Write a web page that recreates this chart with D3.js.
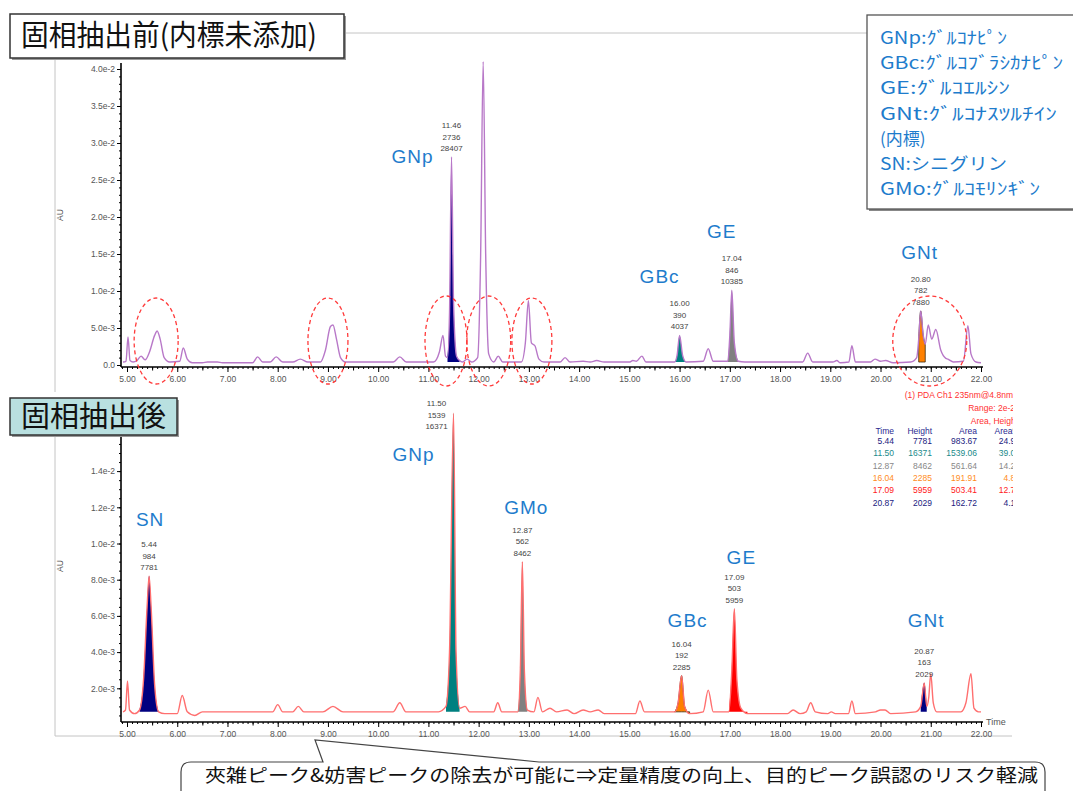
<!DOCTYPE html>
<html>
<head>
<meta charset="utf-8">
<script src="https://cdnjs.cloudflare.com/ajax/libs/d3/7.8.5/d3.min.js"></script>
<style>
body { margin: 0; background: #fff; }
text { font-family: "Liberation Sans", Arial, sans-serif; }
.jp { font-family: "Noto Sans CJK JP", sans-serif; }
</style>
</head>
<body>
<div id="chart"></div>
<script>
// Data
var xTicks = [5, 6, 7, 8, 9, 10, 11, 12, 13, 14, 15, 16, 17, 18, 19, 20, 21, 22];
var topYTicks = [0, 0.005, 0.01, 0.015, 0.02, 0.025, 0.03, 0.035, 0.04];
var topYLabels = ['0.0', '5.0e-3', '1.0e-2', '1.5e-2', '2.0e-2', '2.5e-2', '3.0e-2', '3.5e-2', '4.0e-2'];
var botYTicks = [0.002, 0.004, 0.006, 0.008, 0.01, 0.012, 0.014];
var botYLabels = ['2.0e-3', '4.0e-3', '6.0e-3', '8.0e-3', '1.0e-2', '1.2e-2', '1.4e-2'];

var topBase = 0.0004;
var topTrace = [
  [4.92, 0.0004], [4.98, 0.0005], [5.02, 0.0038], [5.06, 0.0006], [5.12, 0.0004], [5.2, 0.0006],
  [5.28, 0.0012], [5.36, 0.0007], [5.45, 0.0018], [5.55, 0.0040], [5.6, 0.0046], [5.66, 0.0035],
  [5.74, 0.0010], [5.85, 0.0004], [6.05, 0.0005], [6.12, 0.0023], [6.2, 0.0008], [6.3, 0.0003],
  [6.5, 0.0003], [6.6, 0.0004], [6.8, 0.0004], [6.9, 0.0003], [7.5, 0.0003], [7.6, 0.0011],
  [7.7, 0.0004], [7.85, 0.0004], [7.97, 0.0011], [8.1, 0.0004], [8.3, 0.0004], [8.45, 0.0008],
  [8.6, 0.0004], [8.85, 0.0004], [8.95, 0.0020], [9.05, 0.0052], [9.1, 0.0054], [9.17, 0.0035],
  [9.25, 0.0010], [9.35, 0.0004], [10.3, 0.0004], [10.43, 0.0011], [10.56, 0.0004], [11.1, 0.0004],
  [11.22, 0.0018], [11.29, 0.0040], [11.34, 0.0012], [11.38, 0.0010], [11.42, 0.0070], [11.46, 0.0281],
  [11.5, 0.0085], [11.56, 0.0012], [11.62, 0.0006], [11.68, 0.0004], [11.77, 0.0008], [11.86, 0.0004],
  [11.98, 0.0010], [12.04, 0.0150], [12.09, 0.0410], [12.14, 0.0150], [12.2, 0.0015], [12.3, 0.0004],
  [12.39, 0.0012], [12.48, 0.0004], [12.85, 0.0004], [12.93, 0.0030], [12.99, 0.0087], [13.05, 0.0030],
  [13.12, 0.0026], [13.2, 0.0008], [13.3, 0.0004], [13.62, 0.0004], [13.72, 0.0010], [13.82, 0.0004],
  [14.08, 0.0005], [14.22, 0.0004], [14.35, 0.0006], [14.5, 0.0004], [15.0, 0.0004], [15.07, 0.0006],
  [15.14, 0.0005], [15.25, 0.0012], [15.33, 0.0004], [15.9, 0.0004], [15.95, 0.0013], [16.0, 0.0040],
  [16.06, 0.0013], [16.13, 0.0004], [16.47, 0.0005], [16.57, 0.0022], [16.67, 0.0005], [16.96, 0.0005],
  [17.0, 0.0040], [17.04, 0.0101], [17.09, 0.0030], [17.17, 0.0005], [17.3, 0.0004], [18.45, 0.0004],
  [18.55, 0.0016], [18.65, 0.0004], [19.05, 0.0004], [19.13, 0.0006], [19.2, 0.0003], [19.37, 0.0004],
  [19.43, 0.0026], [19.5, 0.0004], [19.8, 0.0004], [19.89, 0.0008], [20.0, 0.0005], [20.1, 0.0006],
  [20.25, 0.0003], [20.6, 0.0004], [20.72, 0.0010], [20.76, 0.0035], [20.8, 0.0073], [20.85, 0.0040],
  [20.89, 0.0028], [20.95, 0.0054], [21.02, 0.0035], [21.1, 0.0048], [21.2, 0.0020], [21.3, 0.0009],
  [21.34, 0.0008], [21.45, 0.0004], [21.65, 0.0005], [21.74, 0.0053], [21.8, 0.0015], [21.9, 0.0004],
  [22.0, 0.0003]
];
var topNames = ['GNp', 'GBc', 'GE', 'GNt'];
var topPeakTimes = [11.46, 16.00, 17.04, 20.80];
var topPeakHeights = [2736, 390, 846, 782];
var topPeakAreas = [28407, 4037, 10385, 7880];
var topFillFrom = [11.38, 15.9, 16.96, 20.76];
var topFillTo = [11.62, 16.13, 17.17, 20.89];
var circledTimes = [5.58, 9.0, 11.35, 12.2, 13.06, 20.98];

var botBase = 0.0007;
var botTrace = [
  [4.92, 0.0007], [4.97, 0.0008], [5.01, 0.0024], [5.05, 0.0008], [5.15, 0.0006], [5.25, 0.0008],
  [5.33, 0.0025], [5.4, 0.0065], [5.44, 0.0082], [5.48, 0.0065], [5.55, 0.0022], [5.63, 0.0007],
  [5.75, 0.0006], [6.0, 0.0006], [6.1, 0.0016], [6.2, 0.0007], [6.35, 0.0005], [6.5, 0.0007],
  [7.0, 0.0007], [7.9, 0.0007], [8.0, 0.0011], [8.1, 0.0007], [8.3, 0.0007], [8.41, 0.0010],
  [8.52, 0.0007], [8.9, 0.0007], [9.1, 0.0010], [9.3, 0.0007], [10.3, 0.0007], [10.43, 0.0012],
  [10.55, 0.0007], [11.2, 0.0007], [11.35, 0.0010], [11.42, 0.0040], [11.5, 0.0172], [11.55, 0.0040],
  [11.62, 0.0009], [11.73, 0.0010], [11.82, 0.0007], [12.3, 0.0007], [12.38, 0.0012], [12.46, 0.0007],
  [12.78, 0.0007], [12.83, 0.0030], [12.87, 0.0090], [12.91, 0.0030], [12.97, 0.0008], [13.1, 0.0007],
  [13.18, 0.0015], [13.27, 0.0007], [13.42, 0.0009], [13.55, 0.0007], [13.76, 0.0008], [13.9, 0.0006],
  [14.08, 0.0008], [14.22, 0.0007], [14.38, 0.0008], [14.5, 0.0006], [15.12, 0.0006], [15.21, 0.0013],
  [15.3, 0.0007], [15.9, 0.0007], [15.97, 0.0012], [16.04, 0.0027], [16.1, 0.0010], [16.2, 0.0006],
  [16.47, 0.0007], [16.57, 0.0019], [16.67, 0.0007], [16.98, 0.0007], [17.04, 0.0030], [17.09, 0.0064],
  [17.14, 0.0025], [17.22, 0.0009], [17.35, 0.0006], [18.15, 0.0006], [18.26, 0.0008], [18.4, 0.0006],
  [18.52, 0.0007], [18.61, 0.0012], [18.7, 0.0007], [18.95, 0.0006], [19.02, 0.0007], [19.1, 0.0006],
  [19.36, 0.0006], [19.43, 0.0013], [19.5, 0.0006], [19.9, 0.0007], [20.0, 0.0008], [20.09, 0.0008],
  [20.2, 0.0006], [20.7, 0.0007], [20.8, 0.0010], [20.87, 0.0023], [20.92, 0.0010], [20.96, 0.0015],
  [21.0, 0.0028], [21.05, 0.0012], [21.12, 0.0007], [21.6, 0.0007], [21.7, 0.0012], [21.8, 0.0028],
  [21.86, 0.0009], [21.95, 0.0007], [22.0, 0.0007]
];
var botNames = ['SN', 'GNp', 'GMo', 'GBc', 'GE', 'GNt'];
var botPeakTimes = [5.44, 11.50, 12.87, 16.04, 17.09, 20.87];
var botPeakHeights = [984, 1539, 562, 192, 503, 163];
var botPeakAreas = [7781, 16371, 8462, 2285, 5959, 2029];
var botFillFrom = [5.25, 11.35, 12.78, 15.9, 16.98, 20.8];
var botFillTo = [5.63, 11.62, 12.97, 16.2, 17.35, 20.92];

var tableTime = ['5.44', '11.50', '12.87', '16.04', '17.09', '20.87'];
var tableHeight = ['7781', '16371', '8462', '2285', '5959', '2029'];
var tableArea = ['983.67', '1539.06', '561.64', '191.91', '503.41', '162.72'];
var tableAreaPct = ['24.95', '39.04', '14.25', '4.87', '12.77', '4.13'];

var legendLines = ['GNp:ｸﾞﾙｺﾅﾋﾟﾝ', 'GBc:ｸﾞﾙｺﾌﾞﾗｼｶﾅﾋﾟﾝ', 'GE:ｸﾞﾙｺｴﾙｼﾝ', 'GNt:ｸﾞﾙｺﾅｽﾂﾙﾁｲﾝ',
  '(内標)', 'SN:シニグリン', 'GMo:ｸﾞﾙｺﾓﾘﾝｷﾞﾝ'];

// Styles / layout
var topColors = {GNp: '#000080', GBc: '#008080', GE: '#808080', GNt: '#ff8000'};
var botColors = {SN: '#000080', GNp: '#008080', GMo: '#808080', GBc: '#ff8000', GE: '#ff0000', GNt: '#000080'};
var tableColors = ['#1a1a80', '#1a8a8a', '#888888', '#ff8c1a', '#ff2020', '#1a1a80'];
// offsets of the blue names and the number stacks from each apex
var topNameOff = {GNp: [-39, -1], GBc: [-20, -59], GE: [-10, -59], GNt: [-1, -59]};
var botNameOff = {SN: [1, -57], GNp: [-40, 41], GMo: [4, -55], GBc: [6, -56], GE: [7, -52], GNt: [2, -63]};
var botNumOff = {GNp: [-17, 22]};
var ellipseR = [[22, 43], [20, 43], [21, 45], [22, 45], [20, 43], [37, 45]];
var legendWidths = [127, 183, 130, 177, null, 127, 160];

var W = 1073, H = 791;
var svg = d3.select('#chart').append('svg')
    .attr('width', W)
    .attr('height', H);

var x = d3.scaleLinear().domain([5, 22]).range([127, 981]);
var yTop = d3.scaleLinear().domain([0, 0.04]).range([365, 69]);
var yBot = d3.scaleLinear().domain([0, 0.014]).range([724.5, 471.1]);

// Frame lines
var frame = svg.append('g').attr('stroke', '#c4c4c4').attr('fill', 'none');
frame.append('line').attr('x1', 345).attr('y1', 33).attr('x2', 868).attr('y2', 33);
frame.append('line').attr('x1', 55).attr('y1', 59).attr('x2', 55).attr('y2', 392);
frame.append('line').attr('x1', 55).attr('y1', 436).attr('x2', 55).attr('y2', 736);
frame.append('line').attr('x1', 55).attr('y1', 736).attr('x2', 1012).attr('y2', 736);

function drawAxes(y, axisY, yTopPx, yTicks, yLabels, minorStep) {
    var ax = svg.append('g');
    // x minor, half and major ticks
    var minor = d3.range(49, 221).map(function(d) { return d / 10; });
    var half = d3.range(5.5, 22, 1);
    var gx = ax.append('g').attr('transform', 'translate(0,' + axisY + ')');
    gx.append('g').call(d3.axisBottom(x).tickValues(minor).tickSize(2).tickFormat(''));
    gx.append('g').call(d3.axisBottom(x).tickValues(half).tickSize(3.5).tickFormat(''));
    gx.append('g').call(d3.axisBottom(x).tickValues(xTicks).tickSize(5).tickPadding(4)
        .tickFormat(d3.format('.2f')));
    gx.append('line').attr('x1', 121).attr('x2', 983).attr('stroke', '#000').attr('stroke-width', 1.6);

    var gy = ax.append('g').attr('transform', 'translate(121,0)');
    var yMin = d3.range(minorStep, y.invert(yTopPx), minorStep);
    gy.append('g').call(d3.axisLeft(y).tickValues(yMin).tickSize(2).tickFormat(''));
    gy.append('g').call(d3.axisLeft(y).tickValues(yTicks).tickSize(4).tickPadding(2)
        .tickFormat(function(d, i) { return yLabels[i]; }));
    gy.append('line').attr('y1', yTopPx).attr('y2', axisY).attr('stroke', '#000').attr('stroke-width', 1.6);

    ax.selectAll('.domain').remove();
    ax.selectAll('.tick line').attr('stroke', '#000');
    ax.selectAll('.tick text').attr('fill', '#555').attr('font-size', '8.5px');
}

function drawTrace(trace, y, base, names, times, from, to, colors, stroke) {
    var g = svg.append('g');
    var area = d3.area()
        .x(function(d) { return x(d[0]); })
        .y0(y(base))
        .y1(function(d) { return y(d[1]); })
        .curve(d3.curveMonotoneX);
    names.forEach(function(n, i) {
        var pts = trace.filter(function(d) { return d[0] >= from[i] && d[0] <= to[i]; });
        g.append('path').datum(pts)
            .attr('d', area)
            .attr('fill', colors[n])
            .attr('stroke', colors[n] === '#ff8000' ? '#3a2a10' : 'none')
            .attr('stroke-width', 0.8);
    });
    var line = d3.line()
        .x(function(d) { return x(d[0]); })
        .y(function(d) { return y(d[1]); })
        .curve(d3.curveMonotoneX);
    g.append('path').datum(trace)
        .attr('d', line)
        .attr('fill', 'none')
        .attr('stroke', stroke)
        .attr('stroke-width', 1.4);
}

function apexOf(trace, t) {
    var p = trace.filter(function(d) { return Math.abs(d[0] - t) < 0.005; })[0];
    return p[1];
}

function drawLabels(trace, y, names, times, heights, areas, nameOff, numOff) {
    var g = svg.append('g');
    names.forEach(function(n, i) {
        var ax = x(times[i]), ay = y(apexOf(trace, times[i]));
        var no = nameOff[n];
        g.append('text')
            .attr('x', ax + no[0]).attr('y', ay + no[1] + 7)
            .attr('text-anchor', 'middle')
            .attr('font-size', '19px')
            .attr('letter-spacing', '1px')
            .attr('fill', '#1e7ccc')
            .text(n);
        var off = (numOff && numOff[n]) || [0, 0];
        var lines = [times[i].toFixed(2), heights[i], areas[i]];
        lines.forEach(function(s, j) {
            g.append('text')
                .attr('x', ax + off[0])
                .attr('y', ay - 6 - (2 - j) * 11.5 + off[1])
                .attr('text-anchor', 'middle')
                .attr('font-size', '8px')
                .attr('fill', '#444')
                .text(s);
        });
    });
}

drawAxes(yTop, 367, 63, topYTicks, topYLabels, 0.001);
drawAxes(yBot, 722, 437, botYTicks, botYLabels, 0.0005);
drawTrace(topTrace, yTop, topBase, topNames, topPeakTimes, topFillFrom, topFillTo, topColors, '#b878c8');
drawTrace(botTrace, yBot, botBase, botNames, botPeakTimes, botFillFrom, botFillTo, botColors, '#ff6f6f');
drawLabels(topTrace, yTop, topNames, topPeakTimes, topPeakHeights, topPeakAreas, topNameOff, null);
drawLabels(botTrace, yBot, botNames, botPeakTimes, botPeakHeights, botPeakAreas, botNameOff, botNumOff);

// AU labels and Time
[215, 566].forEach(function(cy) {
    svg.append('text')
        .attr('transform', 'translate(63,' + cy + ')rotate(-90)')
        .attr('text-anchor', 'middle')
        .attr('font-size', '8.5px')
        .attr('fill', '#555')
        .text('AU');
});
svg.append('text').attr('x', 986).attr('y', 725)
    .attr('font-size', '9px').attr('fill', '#555').text('Time');

// Dashed ellipses round interfering peaks
svg.append('g').selectAll('ellipse')
    .data(circledTimes)
    .enter()
    .append('ellipse')
    .attr('cx', function(d) { return x(d); })
    .attr('cy', 341)
    .attr('rx', function(d, i) { return ellipseR[i][0]; })
    .attr('ry', function(d, i) { return ellipseR[i][1]; })
    .attr('fill', 'none')
    .attr('stroke', '#ff3b3b')
    .attr('stroke-width', 1.3)
    .attr('stroke-dasharray', '4,3');

// Result table (clipped at the panel edge)
svg.append('clipPath').attr('id', 'tclip')
    .append('rect').attr('x', 800).attr('y', 380).attr('width', 213).attr('height', 140);
var tbl = svg.append('g').attr('clip-path', 'url(#tclip)').attr('font-size', '8.5px');
var redX = [1013, 1015, 1018];
['(1) PDA Ch1 235nm@4.8nm', 'Range: 2e-2', 'Area, Height'].forEach(function(s, i) {
    tbl.append('text')
        .attr('x', redX[i])
        .attr('y', 398 + i * 13)
        .attr('text-anchor', 'end')
        .attr('fill', '#ff3030')
        .text(s);
});
var colX = [894, 932, 977, 1020];
['Time', 'Height', 'Area', 'Area%'].forEach(function(s, i) {
    tbl.append('text').attr('x', colX[i]).attr('y', 434)
        .attr('text-anchor', 'end').attr('fill', '#2a2a90').text(s);
});
tableTime.forEach(function(t, r) {
    [t, tableHeight[r], tableArea[r], tableAreaPct[r]].forEach(function(s, i) {
        tbl.append('text').attr('x', colX[i]).attr('y', 444 + r * 12.3)
            .attr('text-anchor', 'end').attr('fill', tableColors[r]).text(s);
    });
});

// Title boxes
function titleBox(x0, y0, w, h, fill, label, size, len) {
    svg.append('rect').attr('x', x0 + 2).attr('y', y0 + 2).attr('width', w).attr('height', h)
        .attr('fill', '#9a9a9a');
    svg.append('rect').attr('x', x0).attr('y', y0).attr('width', w).attr('height', h)
        .attr('fill', fill).attr('stroke', '#333').attr('stroke-width', 1.5);
    svg.append('text').attr('class', 'jp')
        .attr('x', x0 + 11).attr('y', y0 + h / 2 + size * 0.36)
        .attr('font-size', size + 'px').attr('fill', '#111')
        .attr('textLength', len).attr('lengthAdjust', 'spacingAndGlyphs')
        .text(label);
}
titleBox(10, 14, 334, 44, '#fff', '固相抽出前(内標未添加)', 29, 296);
titleBox(10, 398, 167, 37, '#b9e0e0', '固相抽出後', 29, 145);

// Legend box
svg.append('rect').attr('x', 869).attr('y', 17).attr('width', 210).attr('height', 194).attr('fill', '#888');
svg.append('rect').attr('x', 867).attr('y', 15).attr('width', 210).attr('height', 194)
    .attr('fill', '#fff').attr('stroke', '#555').attr('stroke-width', 1.3);
legendLines.forEach(function(s, i) {
    var t = svg.append('text').attr('class', 'jp')
        .attr('x', 880).attr('y', 44 + i * 25.2)
        .attr('font-size', '17px').attr('fill', '#1e7ccc')
        .text(s);
    if (legendWidths[i]) {
        t.attr('textLength', legendWidths[i]).attr('lengthAdjust', 'spacingAndGlyphs');
    }
});

// Callout at the bottom
svg.append('path')
    .attr('d', 'M181,772 Q181,762 191,762 L323,762 L315,740 L539,762 L1035,762 Q1045,762 1045,772 L1045,800 L181,800 Z')
    .attr('fill', '#fff')
    .attr('stroke', '#444')
    .attr('stroke-width', 1.2);
svg.append('text').attr('class', 'jp')
    .attr('x', 205).attr('y', 782)
    .attr('font-size', '18.5px').attr('fill', '#111')
    .attr('textLength', 833).attr('lengthAdjust', 'spacingAndGlyphs')
    .text('夾雑ピーク&妨害ピークの除去が可能に⇒定量精度の向上、目的ピーク誤認のリスク軽減');
</script>
</body>
</html>
